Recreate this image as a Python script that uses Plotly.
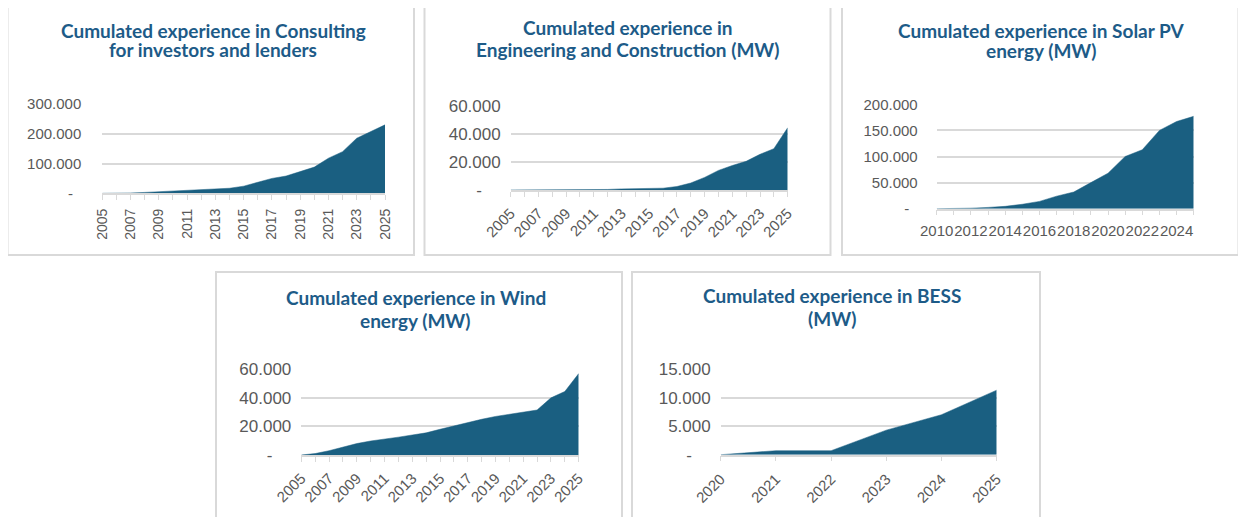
import plotly.graph_objects as go

# page body has an 8px margin, so the figure is sized to the visible area
OFF = 8
W, H = 1246 - OFF, 517 - OFF

# ---------------- data ----------------
years_consulting = list(range(2005, 2026))
consulting = [0, 0, 1000, 3000, 5000, 7000, 9000, 11000, 14000, 17000, 24000,
              38000, 50000, 58000, 72000, 88000, 118000, 140000, 185000, 207000, 230000]

years_engineering = list(range(2005, 2026))
engineering = [0, 0, 100, 150, 200, 250, 300, 400, 800, 1000, 1100,
               1300, 2500, 5000, 9000, 14000, 17500, 20500, 25500, 29500, 44500]

years_solar = list(range(2010, 2026))
solar = [0, 300, 1000, 2500, 4500, 8500, 14000, 24000, 32000, 50000, 68000,
         100000, 113000, 150000, 167000, 177000]

years_wind = list(range(2005, 2026))
wind = [0, 1000, 3000, 5500, 8000, 9800, 11000, 12500, 14000, 15500, 18000,
        20500, 23000, 25000, 27000, 28500, 30000, 31500, 40000, 44500, 57000]

years_bess = list(range(2020, 2026))
bess = [0, 700, 700, 4300, 7000, 11300]

NB = "\u00a0"
consulting_yticks = [0, 100000, 200000, 300000]
consulting_ylabels = ["-" + NB * 2, "100.000", "200.000", "300.000"]
engineering_yticks = [0, 20000, 40000, 60000]
engineering_ylabels = ["-" + NB * 4, "20.000", "40.000", "60.000"]
solar_yticks = [0, 50000, 100000, 150000, 200000]
solar_ylabels = ["-" + NB * 2, "50.000", "100.000", "150.000", "200.000"]
wind_yticks = [0, 20000, 40000, 60000]
wind_ylabels = ["-" + NB * 4, "20.000", "40.000", "60.000"]
bess_yticks = [0, 5000, 10000, 15000]
bess_ylabels = ["-" + NB * 4, "5.000", "10.000", "15.000"]

titles = [
    ["Cumulated experience in Consulting", "for investors and lenders"],
    ["Cumulated experience in", "Engineering and Construction (MW)"],
    ["Cumulated experience in Solar PV", "energy (MW)"],
    ["Cumulated experience in Wind", "energy (MW)"],
    ["Cumulated experience in BESS", "(MW)"],
]

# ---------------- styling / layout geometry (reference pixels) ----------------
FILL = "#1a5f81"
GRID = "#d9d9d9"
TICKC = "#595959"
TITLEC = "#1d5b88"

panels = [
    dict(x=years_consulting, y=consulting, yt=consulting_yticks, yl=consulting_ylabels,
         px=(102.3, 385), py=(104, 193.3), ymax=300000, step=2, angle=-90,
         yfs=15, xfs=14, ystand=20, xstand=3,
         box=(7.5, 6, 414, 255), tx=213, ty=(29, 49)),
    dict(x=years_engineering, y=engineering, yt=engineering_yticks, yl=engineering_ylabels,
         px=(510.7, 787.7), py=(106, 190), ymax=60000, step=2, angle=-45,
         yfs=17, xfs=15, ystand=9, xstand=2,
         box=(424.5, 6, 830.5, 255), tx=627.5, ty=(26.5, 48)),
    dict(x=years_solar, y=solar, yt=solar_yticks, yl=solar_ylabels,
         px=(936.7, 1193.7), py=(104.3, 208.7), ymax=200000, step=2, angle=0,
         yfs=15, xfs=15, ystand=18, xstand=3,
         box=(842, 6, 1238.5, 255), tx=1041.5, ty=(29, 49.5)),
    dict(x=years_wind, y=wind, yt=wind_yticks, yl=wind_ylabels,
         px=(301.3, 578.7), py=(369.3, 455), ymax=60000, step=2, angle=-45,
         yfs=17, xfs=15, ystand=9, xstand=2,
         box=(216, 272, 622, 530), tx=415.8, ty=(296.5, 319)),
    dict(x=years_bess, y=bess, yt=bess_yticks, yl=bess_ylabels,
         px=(720.7, 996.7), py=(369, 454.7), ymax=15000, step=1, angle=-45,
         yfs=17, xfs=15, ystand=9, xstand=3,
         box=(632, 272, 1040, 530), tx=832, ty=(294.5, 317)),
]


def fx(v):
    return (v - OFF) / W


def fy(v):
    return 1 - (v - OFF) / H


fig = go.Figure()
shapes = []
annotations = []
layout = dict(
    width=W, height=H,
    margin=dict(l=0, r=0, t=0, b=0, autoexpand=False),
    paper_bgcolor="white", plot_bgcolor="white",
    showlegend=False,
    font=dict(family="Liberation Sans, Arial, sans-serif", color=TICKC),
)

for i, p in enumerate(panels):
    n = "" if i == 0 else str(i + 1)
    xa, ya = "x" + n, "y" + n
    fig.add_trace(go.Scatter(
        x=p["x"], y=p["y"], mode="lines", fill="tozeroy",
        fillcolor=FILL, line=dict(color=FILL, width=0.5),
        xaxis=xa, yaxis=ya, hoverinfo="skip",
    ))
    x0, x1 = p["px"]
    ytop, ybot = p["py"]
    first = p["x"][0]
    ticktext = [str(v) if (v - first) % p["step"] == 0 else "" for v in p["x"]]
    layout["xaxis" + n] = dict(
        domain=[fx(x0), fx(x1)], anchor=ya,
        range=[p["x"][0], p["x"][-1]],
        tickvals=p["x"], ticktext=ticktext, tickangle=p["angle"],
        ticks="outside", ticklen=5, tickcolor=GRID, tickwidth=1.3,
        showline=True, linecolor=GRID, linewidth=1.5,
        showgrid=False, zeroline=False, automargin=False,
        tickfont=dict(size=p["xfs"], color=TICKC, family="Liberation Sans, Arial"),
        ticklabelstandoff=p["xstand"],
        fixedrange=True,
    )
    layout["yaxis" + n] = dict(
        domain=[fy(ybot), fy(ytop)], anchor=xa,
        range=[0, p["ymax"]],
        tickvals=p["yt"], ticktext=p["yl"],
        showgrid=True, gridcolor=GRID, gridwidth=1.5,
        zeroline=False, showline=False, ticks="", automargin=False,
        tickfont=dict(size=p["yfs"], color=TICKC, family="Liberation Sans, Arial"),
        ticklabelstandoff=p["ystand"],
        fixedrange=True,
    )
    bx0, by0, bx1, by1 = p["box"]
    shapes.append(dict(type="rect", xref="paper", yref="paper",
                       x0=fx(bx0), x1=fx(bx1), y0=fy(by1), y1=fy(by0),
                       line=dict(color=GRID, width=2), fillcolor="rgba(0,0,0,0)",
                       layer="below"))
    for line_text, ty in zip(titles[i], p["ty"]):
        annotations.append(dict(
            text="<b>" + line_text + "</b>", xref="paper", yref="paper",
            x=fx(p["tx"]), y=fy(ty + 1), xanchor="center", yanchor="middle",
            showarrow=False,
            font=dict(family="Lato, Open Sans, sans-serif", size=19,
                      color=TITLEC, weight=800),
        ))

layout["shapes"] = shapes
layout["annotations"] = annotations
fig.update_layout(**layout)
fig.write_html("out.html")
